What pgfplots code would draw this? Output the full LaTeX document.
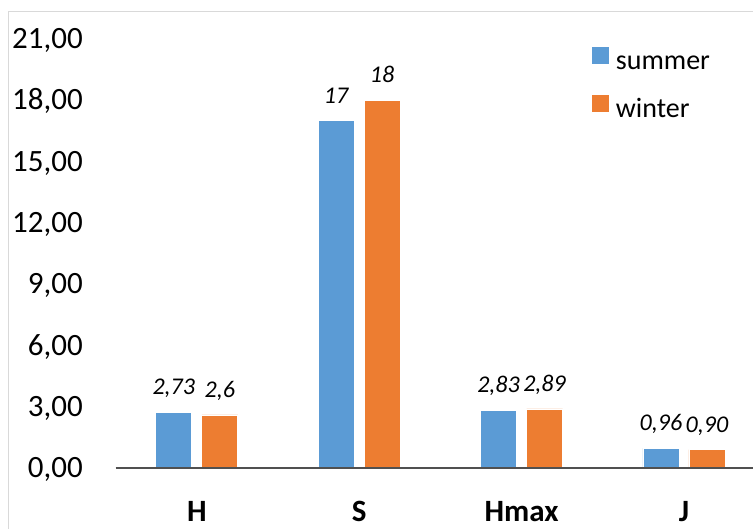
\documentclass[border=0pt]{standalone}
\usepackage{fontspec}
\setmainfont{Carlito}
\usepackage{pgfplots}
\pgfplotsset{compat=1.18}
\definecolor{summerblue}{HTML}{5B9BD5}
\definecolor{winterorange}{HTML}{ED7D31}
\definecolor{framegray}{HTML}{D9D9D9}
\definecolor{axisgray}{HTML}{505050}

\begin{document}
\begin{tikzpicture}[x=1pt,y=1pt]
\useasboundingbox (0,0) rectangle (753,528);
\fill[white] (0,0) rectangle (753,528);
% chart frame
\draw[framegray, line width=1pt] (8,-5) -- (8,516) -- (760,516);
\begin{axis}[
  at={(115.6pt,60pt)}, anchor=south west,
  scale only axis, width=649.5pt, height=429.3pt,
  ybar=10pt, bar width=36pt,
  xmin=-0.5, xmax=3.5, ymin=0, ymax=21,
  xtick={0,1,2,3}, xticklabels={H,S,Hmax,J},
  ytick={0,3,...,21},
  axis on top,
  axis x line*=bottom, axis y line*=left,
  x axis line style={axisgray, line width=1.8pt},
  y axis line style={draw=none},
  major tick length=0pt,
  yticklabel style={/pgf/number format/.cd, fixed, fixed zerofill, precision=2, use comma, assume math mode=true, /tikz/.cd,
    font=\fontsize{31}{36}\selectfont, anchor=base east, inner sep=0pt, xshift=-32.6pt, yshift=-9.8pt},
  xticklabel style={font=\fontsize{31}{36}\selectfont\bfseries, anchor=base, inner sep=0pt, yshift=-53.7pt},
  nodes near coords, point meta=explicit symbolic,
  every node near coord/.append style={font=\fontsize{24}{28}\selectfont\itshape, anchor=base, inner sep=0pt, yshift=17.4pt, black},
  legend image code/.code={\fill[#1, draw=none] (0pt,-1pt) rectangle (17pt,16pt);},
  legend style={at={(0.733,0.9814)}, anchor=north west, draw=none, fill=none, inner sep=0pt,
    column sep=7pt, row sep=19pt,
    nodes={inner sep=0pt, text height=20pt, text depth=6pt, font=\fontsize{28}{32}\selectfont}},
  legend cell align=left,
]
\addplot[fill=summerblue, draw=white, line width=0.6pt]
  coordinates {(0,2.73) [2,73] (1,17) [17] (2,2.83) [2,83] (3,0.96) [0,96]};
\addplot[fill=winterorange, draw=white, line width=0.6pt]
  coordinates {(0,2.6) [2,6] (1,18) [18] (2,2.89) [2,89] (3,0.90) [0,90]};
\legend{summer,winter}
\end{axis}
\end{tikzpicture}
\end{document}
